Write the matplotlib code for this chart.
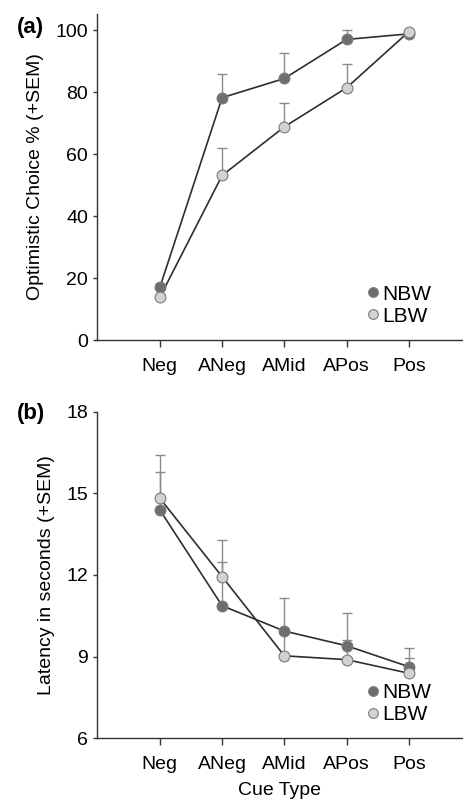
import numpy as np
import matplotlib
matplotlib.use('Agg')
import matplotlib.pyplot as plt
from matplotlib.lines import Line2D

plt.rcParams['font.family'] = ['Liberation Sans', 'DejaVu Sans']

cues = ["Neg", "ANeg", "AMid", "APos", "Pos"]

# (a) optimistic choice %
choice_nbw = [17.0, 78.2, 84.4, 97.0, 98.8]
choice_nbw_sem = [1.0, 7.5, 8.1, 3.0, 0.5]
choice_lbw = [13.8, 53.1, 68.8, 81.4, 99.5]
choice_lbw_sem = [1.0, 8.9, 7.7, 7.8, 0.3]

# (b) latency in seconds
lat_nbw = [14.39, 10.87, 9.94, 9.40, 8.63]
lat_nbw_sem = [1.40, 1.62, 1.21, 1.22, 0.70]
lat_lbw = [14.82, 11.94, 9.03, 8.89, 8.39]
lat_lbw_sem = [1.60, 1.36, 0.90, 0.72, 0.57]

dark = '#6e6e6e'
light = '#d2d2d2'
edge = '#7a7a7a'
linec = '#2e2e2e'
errc = '#8a8a8a'

fig = plt.figure(figsize=(4.63, 8.01), dpi=100)
ax1 = fig.add_axes([0.2095, 0.5755, 0.7905, 0.407])
ax2 = fig.add_axes([0.2095, 0.0783, 0.7905, 0.4077])

x = np.arange(len(cues))


def draw(ax, nbw, nbw_sem, lbw, lbw_sem):
    for y, s in [(nbw, nbw_sem), (lbw, lbw_sem)]:
        ax.errorbar(x, y, yerr=[np.zeros(len(s)), s], fmt='none', ecolor=errc,
                    elinewidth=1.0, capsize=3.5, capthick=1.0, zorder=1)
    for y, fc in [(nbw, dark), (lbw, light)]:
        ax.plot(x, y, '-', color=linec, lw=1.2, zorder=2)
        ax.plot(x, y, 'o', ms=7.8, mfc=fc, mec=edge, mew=0.8, zorder=3)
    ax.set_xlim(-1.01, 4.87)
    ax.set_xticks(x)
    ax.set_xticklabels(cues)
    for sp in ['top', 'right']:
        ax.spines[sp].set_visible(False)
    for sp in ['left', 'bottom']:
        ax.spines[sp].set_color('#333333')
        ax.spines[sp].set_linewidth(1.0)
    ax.tick_params(axis='both', labelsize=14, color='#333333', length=3, width=1.0)
    ax.tick_params(axis='x', length=5, pad=8)
    handles = [Line2D([], [], ls='none', marker='o', ms=7, mfc=dark, mec=edge, mew=0.8),
               Line2D([], [], ls='none', marker='o', ms=7, mfc=light, mec=edge, mew=0.8)]
    ax.legend(handles, ["NBW", "LBW"], loc='lower right', bbox_to_anchor=(0.942, 0.012),
              frameon=False, fontsize=15, handlelength=0.5, handletextpad=0.2,
              labelspacing=0.15, borderpad=0)


draw(ax1, choice_nbw, choice_nbw_sem, choice_lbw, choice_lbw_sem)
ax1.set_ylim(0, 105.2)
ax1.set_yticks([0, 20, 40, 60, 80, 100])
ax1.set_ylabel("Optimistic Choice % (+SEM)", fontsize=14, labelpad=8)

draw(ax2, lat_nbw, lat_nbw_sem, lat_lbw, lat_lbw_sem)
ax2.set_ylim(6, 18)
ax2.set_yticks([6, 9, 12, 15, 18])
ax2.set_ylabel("Latency in seconds (+SEM)", fontsize=14, labelpad=8)
ax2.set_xlabel("Cue Type", fontsize=14, labelpad=6)

fig.text(0.037, 0.966, "(a)", fontsize=16, fontweight='bold', va='center')
fig.text(0.037, 0.484, "(b)", fontsize=16, fontweight='bold', va='center')

fig.savefig('out.png', dpi=100)
